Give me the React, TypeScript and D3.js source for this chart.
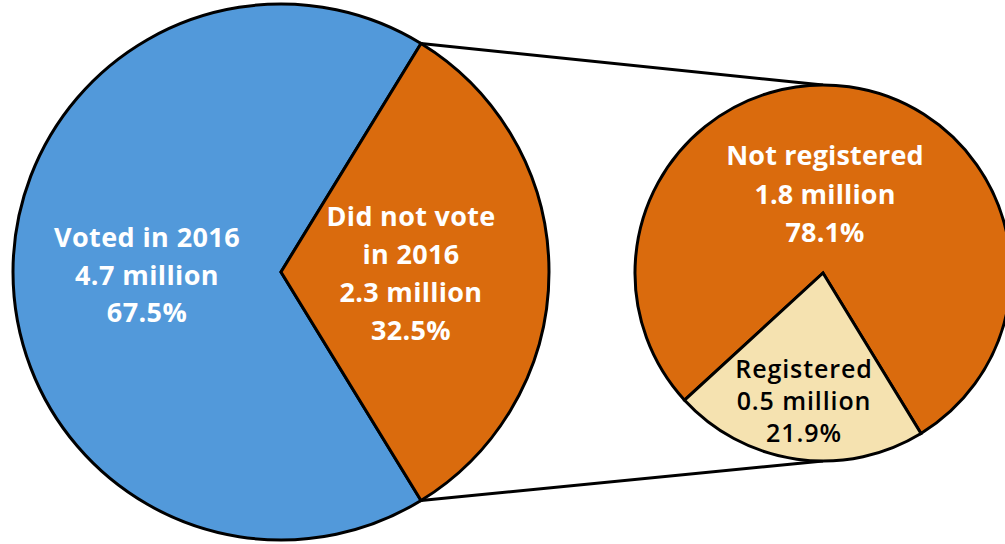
import React from "react";
import * as d3 from "d3";

const mainCategories = ["Voted in 2016", "Did not vote in 2016"];
const mainValues = [67.5, 32.5];
const mainMillions = ["4.7 million", "2.3 million"];
const subCategories = ["Not registered", "Registered"];
const subValues = [78.1, 21.9];
const subMillions = ["1.8 million", "0.5 million"];

const BLUE = "#5299DA";
const ORANGE = "#DA6B0D";
const BEIGE = "#F5E2B0";

export default function App() {
  const W = 1005, H = 544;
  const big = { cx: 281, cy: 272, r: 268 };
  const small = { cx: 823, cy: 273, r: 188 };
  const toRad = (d: number) => (d * Math.PI) / 180;

  const notVoteSpan = (mainValues[1] / d3.sum(mainValues)) * 2 * Math.PI;
  const bigStart = Math.PI / 2 - notVoteSpan / 2;
  const bigPie = d3.pie<number>().sort(null).startAngle(bigStart + notVoteSpan - 2 * Math.PI).endAngle(bigStart + notVoteSpan);
  const bigArcs = bigPie(mainValues);
  const bigArc = d3.arc<d3.PieArcDatum<number>>().innerRadius(0).outerRadius(big.r);

  const regSpan = (subValues[1] / d3.sum(subValues)) * 2 * Math.PI;
  const regCenter = toRad(188);
  const regStart = regCenter - regSpan / 2;
  const smallPie = d3.pie<number>().sort(null).startAngle(regStart + regSpan).endAngle(regStart + regSpan + 2 * Math.PI);
  const smallArcs = smallPie(subValues);
  const smallArc = d3.arc<d3.PieArcDatum<number>>().innerRadius(0).outerRadius(small.r);

  const pt = (c: { cx: number; cy: number; r: number }, a: number) => [c.cx + c.r * Math.sin(a), c.cy - c.r * Math.cos(a)];
  const p1 = pt(big, bigStart);
  const p2 = pt(big, bigStart + notVoteSpan);

  const font = "'Open Sans', 'Noto Sans', sans-serif";
  const fmt = (v: number) => v.toFixed(1) + "%";

  const labels: { x: number; y: number; lines: string[]; fill: string; weight: number; size: number; lh: number; ls: number }[] = [
    { x: 147, y: 247, lines: [mainCategories[0], mainMillions[0], fmt(mainValues[0])], fill: "#fff", weight: 700, size: 27, lh: 37.5, ls: 0.4 },
    { x: 411, y: 226, lines: ["Did not vote", "in 2016", mainMillions[1], fmt(mainValues[1])], fill: "#fff", weight: 700, size: 27, lh: 38, ls: 0.3 },
    { x: 825, y: 165, lines: [subCategories[0], subMillions[0], fmt(subValues[0])], fill: "#fff", weight: 700, size: 27, lh: 38.5, ls: 0.15 },
    { x: 804, y: 378, lines: [subCategories[1], subMillions[1], fmt(subValues[1])], fill: "#000", weight: 600, size: 25, lh: 32, ls: 0.9 },
  ];

  return (
    <svg width={W} height={H} style={{ position: "absolute", left: 0, top: 0 }}>
      <rect width={W} height={H} fill="#fff" />
      <line x1={p1[0]} y1={p1[1]} x2={small.cx} y2={small.cy - small.r} stroke="#000" strokeWidth={3} />
      <line x1={p2[0]} y1={p2[1]} x2={small.cx} y2={small.cy + small.r} stroke="#000" strokeWidth={3} />
      <g transform={`translate(${big.cx},${big.cy})`}>
        {bigArcs.map((a, i) => (
          <path key={i} d={bigArc(a) || ""} fill={i === 0 ? BLUE : ORANGE} stroke="#000" strokeWidth={3} strokeLinejoin="miter" />
        ))}
      </g>
      <g transform={`translate(${small.cx},${small.cy})`}>
        {smallArcs.map((a, i) => (
          <path key={i} d={smallArc(a) || ""} fill={i === 0 ? ORANGE : BEIGE} stroke="#000" strokeWidth={3} strokeLinejoin="miter" />
        ))}
      </g>
      {labels.map((l, i) => (
        <text key={i} x={l.x} y={l.y} textAnchor="middle" fill={l.fill} fontFamily={font} fontWeight={l.weight} fontSize={l.size} letterSpacing={l.ls}>
          {l.lines.map((s, j) => (
            <tspan key={j} x={l.x} y={l.y + j * l.lh}>{s}</tspan>
          ))}
        </text>
      ))}
    </svg>
  );
}
